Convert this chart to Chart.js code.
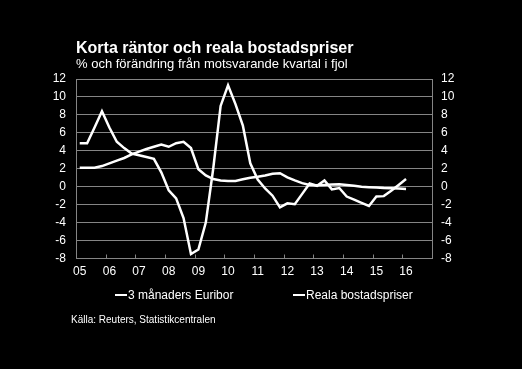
<!DOCTYPE html>
<html>
<head>
<meta charset="utf-8">
<script src="https://cdn.jsdelivr.net/npm/chart.js@4.4.0/dist/chart.umd.min.js"></script>
<style>
  html, body { margin: 0; padding: 0; background: #000; }
  body { width: 522px; height: 369px; position: relative; overflow: hidden; font-family: "Liberation Sans", Arial, sans-serif; color: #fff; }
  #wrap { position: absolute; left: 0; top: 0; width: 522px; height: 369px; }
  .txt { position: absolute; white-space: nowrap; line-height: 1; }
  #title { left: 76px; top: 40px; font-size: 16px; font-weight: bold; }
  #sub { left: 76px; top: 57px; font-size: 13px; }
  #src { left: 71px; top: 315px; font-size: 10px; }
  .leg { position: absolute; top: 288px; height: 14px; font-size: 12px; line-height: 14px; white-space: nowrap; }
  .leg i { display: inline-block; width: 12px; height: 2px; background: #fff; vertical-align: middle; margin-right: 1px; position: relative; top: -1px; }
</style>
</head>
<body>
<div id="wrap"><canvas id="c" width="522" height="369"></canvas></div>
<div class="txt" id="title">Korta räntor och reala bostadspriser</div>
<div class="txt" id="sub">% och förändring från motsvarande kvartal i fjol</div>
<div class="txt" id="src">Källa: Reuters, Statistikcentralen</div>
<script>
// quarters 2005K1 .. 2016K4
const years = ['05','06','07','08','09','10','11','12','13','14','15','16'];
const quarters = [];
years.forEach(y => { for (let q = 1; q <= 4; q++) quarters.push(y + 'K' + q); });

const euribor = [2.12, 2.12, 2.12, 2.3, 2.6, 2.9, 3.2, 3.6, 3.9, 4.2, 4.45, 4.7,
  4.45, 4.85, 5.0, 4.3, 1.95, 1.25, 0.85, 0.68, 0.64, 0.64, 0.82, 1.0,
  1.1, 1.25, 1.45, 1.5, 1.05, 0.7, 0.4, 0.2, 0.15, 0.2, 0.25, 0.27,
  0.2, 0.1, 0.0, -0.05, -0.1, -0.15, -0.18, -0.2, -0.25];
const bostadspriser = [4.85, 4.85, 6.6, 8.4, 6.6, 5.0, 4.3, 3.7, 3.5, 3.3, 3.1, 1.6,
  -0.4, -1.3, -3.5, -7.5, -7.0, -4.0, 2.0, 9.0, 11.3, 9.2, 6.8, 2.6,
  0.8, -0.2, -1.0, -2.3, -1.85, -1.95, -0.8, 0.35, 0.1, 0.7, -0.3, -0.15,
  -1.1, -1.45, -1.8, -2.15, -1.1, -1.05, -0.45, 0.2, 0.85];
const yTicks = [-8, -6, -4, -2, 0, 2, 4, 6, 8, 10, 12];
const legendLeft = [115, 293];

const FONT = '"Liberation Sans", Arial, sans-serif';
const GRID = '#858585';

// short tick marks pointing up into the plot, at each year boundary
const innerTicks = {
  id: 'innerTicks',
  afterDatasetsDraw(chart) {
    const x = chart.scales.x, ctx = chart.ctx, bottom = chart.chartArea.bottom;
    ctx.save();
    ctx.strokeStyle = GRID;
    ctx.lineWidth = 1;
    for (let i = 4; i < quarters.length; i += 4) {
      const px = Math.round((x.getPixelForTick(i) + x.getPixelForTick(i - 1)) / 2) + 0.5;
      ctx.beginPath();
      ctx.moveTo(px, bottom - 4);
      ctx.lineTo(px, bottom);
      ctx.stroke();
    }
    ctx.restore();
  }
};

const chart = new Chart(document.getElementById('c'), {
  type: 'line',
  data: {
    labels: quarters,
    datasets: [
      { label: '3 månaders Euribor', data: euribor, borderColor: '#fff', backgroundColor: '#fff',
        borderWidth: 2.5, pointRadius: 0, tension: 0, yAxisID: 'y' },
      { label: 'Reala bostadspriser', data: bostadspriser, borderColor: '#fff', backgroundColor: '#fff',
        borderWidth: 2.5, pointRadius: 0, tension: 0, yAxisID: 'y' }
    ]
  },
  options: {
    responsive: false,
    animation: false,
    layout: { padding: { top: 79, left: 0, right: 0, bottom: 84.5 } },
    plugins: {
      legend: { display: false },
      tooltip: { enabled: false }
    },
    scales: {
      x: {
        type: 'category',
        offset: true,
        grid: { display: false, drawTicks: false },
        border: { display: false },
        afterFit(s) { s.height = 26; },
        ticks: {
          autoSkip: false, maxRotation: 0, padding: 6,
          color: '#fff', font: { family: FONT, size: 12 },
          callback: (v, i) => (i % 4 === 0 ? years[i / 4] : '')
        }
      },
      y: {
        position: 'left', min: -8, max: 12,
        afterFit(s) { s.width = 76; },
        afterBuildTicks(s) { s.ticks = yTicks.map(v => ({ value: v })); },
        grid: { color: GRID, lineWidth: 1, drawTicks: false },
        border: { display: true, color: GRID, width: 1 },
        ticks: { autoSkip: false, color: '#fff', padding: 10, font: { family: FONT, size: 12 } }
      },
      y2: {
        position: 'right', min: -8, max: 12, display: true,
        afterFit(s) { s.width = 90; },
        afterBuildTicks(s) { s.ticks = yTicks.map(v => ({ value: v })); },
        grid: { display: false, drawTicks: false },
        border: { display: true, color: GRID, width: 1 },
        ticks: { autoSkip: false, color: '#fff', padding: 9, font: { family: FONT, size: 12 } }
      }
    }
  },
  plugins: [innerTicks]
});

// legend as text, built from the chart's datasets
chart.data.datasets.forEach((ds, i) => {
  const el = document.createElement('div');
  el.className = 'leg';
  el.style.left = legendLeft[i] + 'px';
  el.innerHTML = '<i></i>';
  el.appendChild(document.createTextNode(ds.label));
  document.body.appendChild(el);
});
</script>
</body>
</html>
